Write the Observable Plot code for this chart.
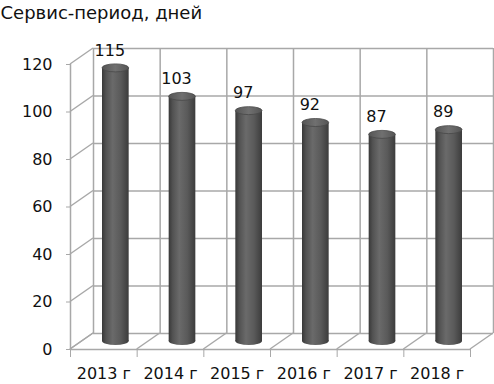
<!DOCTYPE html>
<html><head><meta charset="utf-8">
<script src="https://cdn.jsdelivr.net/npm/d3@7"></script>
<script src="https://cdn.jsdelivr.net/npm/@observablehq/plot@0.6"></script>
<style>body{margin:0;background:#fff;overflow:hidden}</style>
</head><body>
<svg width="0" height="0" style="position:absolute"><defs>
<linearGradient id="cylBody" x1="0" x2="1" y1="0" y2="0">
 <stop offset="0" stop-color="#383838"/>
 <stop offset="0.15" stop-color="#525252"/>
 <stop offset="0.4" stop-color="#6a6a6a"/>
 <stop offset="0.7" stop-color="#5a5a5a"/>
 <stop offset="1" stop-color="#3c3c3c"/>
</linearGradient>
<linearGradient id="cylTop" x1="0" x2="1" y1="0" y2="0">
 <stop offset="0" stop-color="#555"/>
 <stop offset="0.5" stop-color="#707070"/>
 <stop offset="1" stop-color="#555"/>
</linearGradient>
</defs></svg>
<div id="chart"></div>
<script>
const title = "Сервис-период, дней";
const years = ["2013 г", "2014 г", "2015 г", "2016 г", "2017 г", "2018 г"];
const values = [115, 103, 97, 92, 87, 89];
const yTicks = [0, 20, 40, 60, 80, 100, 120];

const data = years.map((year, i) => ({year, i, value: values[i]}));
const bounds = d3.range(years.length + 1);

const depthX = 23, depthY = -16;   // back-wall offset (px)
const barDX = 12, barDY = -8;      // cylinder mid-depth offset (px)
const inset = 20;
const grid = "#a8a8a8";
const font = "DejaVu Sans";

function sideWalls(index, {x, y}) {
  const g = d3.create("svg:g").attr("fill", "none").attr("stroke", grid).attr("stroke-width", 1.5);
  for (const t of yTicks)
    g.append("line").attr("x1", x(0)).attr("y1", y(t)).attr("x2", x(0) + depthX).attr("y2", y(t) + depthY);
  for (const b of bounds)
    g.append("line").attr("x1", x(b)).attr("y1", y(0)).attr("x2", x(b) + depthX).attr("y2", y(0) + depthY);
  return g.node();
}

function caps(index, {x, y}) {
  const g = d3.create("svg:g");
  const rx = (x(1) - x(0)) / 2 - inset;
  for (const d of data) {
    const cx = x(d.i + 0.5) + barDX;
    g.append("ellipse").attr("cx", cx).attr("cy", y(0) + barDY).attr("rx", rx).attr("ry", 4)
      .attr("fill", "url(#cylBody)");
    g.append("ellipse").attr("cx", cx).attr("cy", y(d.value) + barDY).attr("rx", rx).attr("ry", 4)
      .attr("fill", "url(#cylTop)").attr("stroke", "#474747").attr("stroke-width", 0.8);
  }
  return g.node();
}

const chart = Plot.plot({
  width: 494,
  height: 384,
  marginLeft: 70,
  marginRight: 24,
  marginTop: 64,
  marginBottom: 35,
  style: {fontFamily: font, background: "#fff", overflow: "visible"},
  x: {domain: [0, years.length], axis: null},
  y: {domain: [0, 120], axis: null},
  marks: [
    Plot.text([title], {frameAnchor: "top-left", dx: -70, dy: -58, textAnchor: "start", fontSize: 18, fill: "#111"}),
    Plot.ruleY(yTicks, {y: d => d, dx: depthX, dy: depthY, stroke: grid, strokeWidth: 1.5}),
    Plot.ruleX(bounds, {x: d => d, y1: 0, y2: 120, dx: depthX, dy: depthY, stroke: grid, strokeWidth: 1.5}),
    sideWalls,
    Plot.ruleY([0], {stroke: grid, strokeWidth: 1.5}),
    Plot.ruleX([0], {y1: 0, y2: 120, stroke: grid, strokeWidth: 1.5}),
    Plot.rectY(data, {x1: d => d.i, x2: d => d.i + 1, y: "value", insetLeft: inset, insetRight: inset,
      dx: barDX, dy: barDY, fill: "url(#cylBody)"}),
    caps,
    Plot.text(data, {x: d => d.i + 0.5, y: "value", text: d => String(d.value), dx: barDX - 6, dy: barDY - 18,
      fontSize: 16, fill: "#111"}),
    Plot.axisY({ticks: yTicks, tickSize: 4, tickPadding: 14, fontSize: 16, stroke: grid, color: "#111", label: null}),
    Plot.axisX({ticks: bounds, tickSize: 8, tickFormat: () => "", stroke: grid, label: null}),
    Plot.text(data, {x: d => d.i + 0.5, y: 0, text: "year", dy: 24, fontSize: 16, fill: "#111"})
  ]
});
document.getElementById("chart").append(chart);
</script>
</body></html>
